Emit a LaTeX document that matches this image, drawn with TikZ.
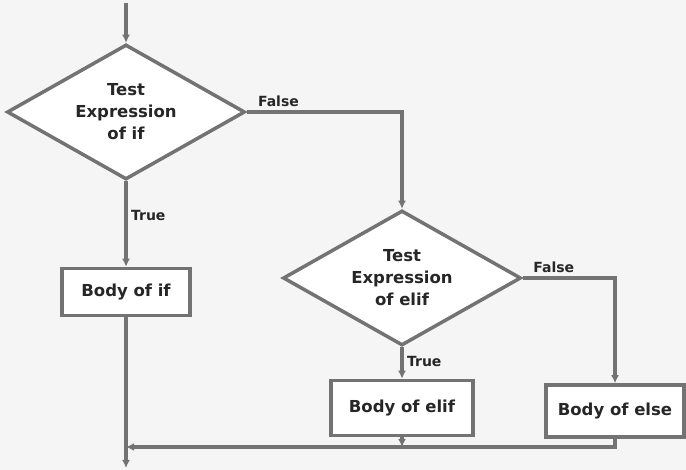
\documentclass[tikz,border=0pt]{standalone}
\usepackage{fontspec}
\setmainfont{DejaVu Sans}
\usetikzlibrary{shapes.geometric,arrows.meta}
\def\boxfont{\bfseries\fontsize{16.5}{22}\selectfont}
\def\tagfont{\bfseries\fontsize{14}{16}\selectfont}

\begin{document}
\begin{tikzpicture}[x=1pt,y=-1pt,
    line/.style={draw=black!55,line width=3.5pt,-{Latex[length=8pt,width=8pt]}},
    test/.style={diamond,aspect=1.76,draw=black!55,line width=3.5pt,fill=white,inner sep=0pt,
        minimum width=238pt,minimum height=135pt,align=center,text=black!85,font=\boxfont},
    body/.style={rectangle,draw=black!55,line width=3.5pt,fill=white,text=black!85,font=\boxfont},
    tag/.style={text=black!85,font=\tagfont}]
    \useasboundingbox (0,0) rectangle (686,470);
    \fill[black!4] (0,0) rectangle (686,470);

    % decisions and bodies
    \node[test] (ifTest) at (126,112) {Test\\Expression\\of if};
    \node[test] (elifTest) at (402,278) {Test\\Expression\\of elif};
    \node[body,minimum width=128pt,minimum height=47pt] (ifBody) at (126,292) {Body of if};
    \node[body,minimum width=142pt,minimum height=55pt] (elifBody) at (402,408) {Body of elif};
    \node[body,minimum width=138pt,minimum height=52pt] (elseBody) at (615,411) {Body of else};

    \coordinate (start) at (126,3);
    \coordinate (exit) at (126,468);
    \coordinate (join) at (126,447);

    % connectors
    \draw[line] (ifTest.east) -| (elifTest.north)
        node[tag,pos=0.02,above right] (ifFalse) {False};
    \draw[line] (start) -- (ifTest.north);
    \draw[line] (ifTest.south) -- (ifBody.north)
        node[tag,pos=0.4,right] (ifTrue) {True};
    \draw[line] (elifTest.east) -| (elseBody.north)
        node[tag,pos=0.03,above right] (elifFalse) {False};
    \draw[line] (elifTest.south) -- (elifBody.north)
        node[tag,pos=0.45,right] (elifTrue) {True};
    \draw[line] (ifBody.south) -- (exit);
    \draw[line] (elseBody.south) |- (join);
    \draw[line] (elifBody.south) -- (elifBody.south |- join);
\end{tikzpicture}
\end{document}
